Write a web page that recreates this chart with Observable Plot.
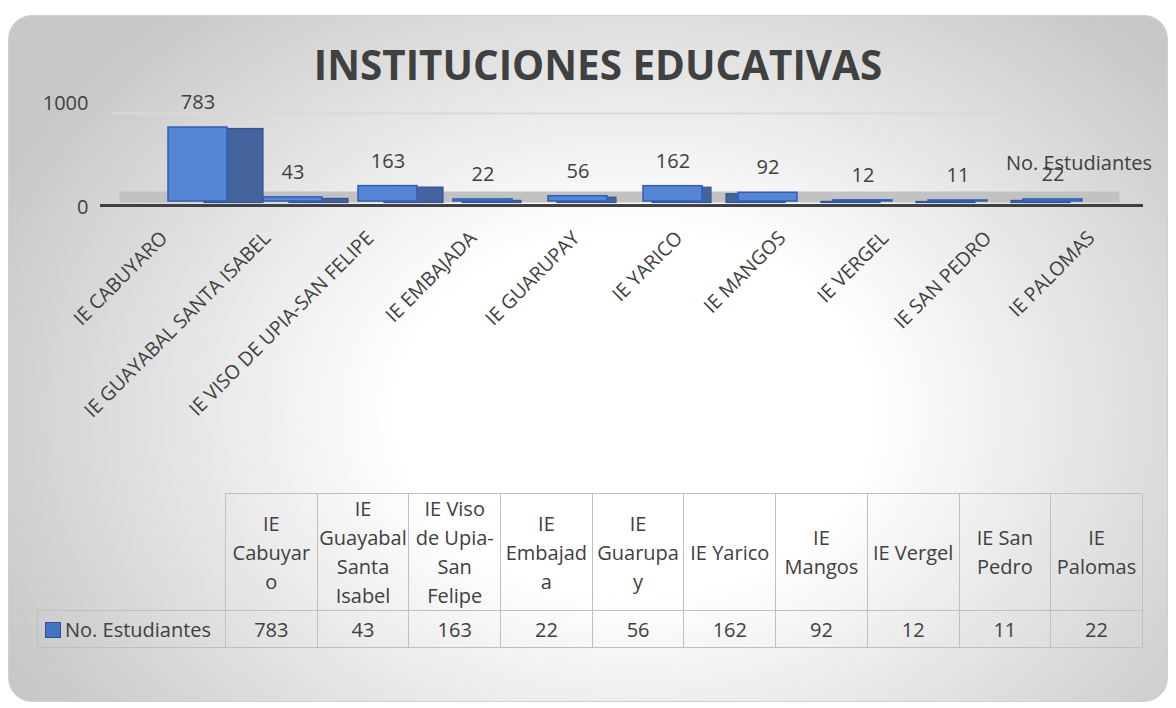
<!DOCTYPE html>
<html>
<head>
<meta charset="utf-8">
<script src="https://cdn.jsdelivr.net/npm/d3@7"></script>
<script src="https://cdn.jsdelivr.net/npm/@observablehq/plot@0.6"></script>
<style>
  html, body { margin: 0; padding: 0; width: 1176px; height: 708px; overflow: hidden; background: #ffffff;
    font-family: "Open Sans", sans-serif; color: #404040; }
  #card { position: absolute; left: 8px; top: 15px; width: 1160px; height: 687px; box-sizing: border-box;
    border: 1px solid #d0d0d0; border-radius: 24px;
    background: radial-gradient(ellipse 60% 78% at 54% 58%, #ffffff 0%, #ffffff 34%, #c8c8c8 100%); }
  #title { position: absolute; left: 0; top: 45px; width: 1196px; text-align: center; font-weight: 700;
    font-size: 40.4px; line-height: 40px; color: #404040; white-space: nowrap; }
  #bars { position: absolute; left: 0; top: 95px; }
  #labels { position: absolute; left: 0; top: 205px; }
  #table { position: absolute; left: 37px; top: 493px; border-collapse: collapse; table-layout: fixed;
    width: 1105px; font-size: 20px; line-height: 29px; color: #404040; }
  #table td { border: 1.5px solid #bfbfbf; padding: 0; text-align: center; vertical-align: middle;
    white-space: pre; overflow: visible; }
  #table td.empty { border: none; }
  #table tr.head td { height: 115px; }
  #table tr.data td { height: 36px; }
  #table td.legend { text-align: left; padding-left: 7px; }
  .swatch { display: inline-block; width: 14px; height: 14px; background: #4472c4; border: 1px solid #2f528f;
    margin-right: 4px; vertical-align: -1px; }
</style>
</head>
<body>
<div id="card"></div>
<div id="title"></div>
<div id="bars"></div>
<div id="labels"></div>
<table id="table"></table>
<script>
// ---- data ----
const chartTitle = "INSTITUCIONES EDUCATIVAS";
const seriesName = "No. Estudiantes";
const categories = ["IE CABUYARO", "IE GUAYABAL SANTA ISABEL", "IE VISO DE UPIA-SAN FELIPE", "IE EMBAJADA",
  "IE GUARUPAY", "IE YARICO", "IE MANGOS", "IE VERGEL", "IE SAN PEDRO", "IE PALOMAS"];
const tableLabels = ["IE\nCabuyar\no", "IE\nGuayabal\nSanta\nIsabel", "IE Viso\nde Upia-\nSan\nFelipe",
  "IE\nEmbajad\na", "IE\nGuarupa\ny", "IE Yarico", "IE\nMangos", "IE Vergel", "IE San\nPedro", "IE\nPalomas"];
const values = [783, 43, 163, 22, 56, 162, 92, 12, 11, 22];
const yTicks = [0, 1000];

const rows = categories.map((c, i) => ({category: c, value: values[i], index: i}));

document.getElementById("title").textContent = chartTitle;

const font = '"Open Sans", sans-serif';
const ink = "#404040";

// side faces of the 3D columns (perspective: right side on the left, left side on the right)
const sideGroups = [
  {from: 0, to: 0, dx: 36},
  {from: 1, to: 2, dx: 26},
  {from: 3, to: 5, dx: 9},
  {from: 6, to: 9, dx: -12}
];
const sideMarks = sideGroups.map(g => Plot.barY(rows.filter(d => d.index >= g.from && d.index <= g.to), {
  x: "category", y: "value", fill: "#45639c", stroke: "#2f5597", strokeWidth: 1.2,
  insetLeft: 18, insetRight: 18, dx: g.dx, dy: 1.5
}));

const bars = Plot.plot({
  width: 1176, height: 300,
  marginLeft: 149.5, marginRight: 76.5, marginTop: 11.5, marginBottom: 194,
  style: {fontFamily: font, fontSize: "20px", color: ink, background: "transparent", overflow: "visible"},
  x: {type: "band", domain: categories, padding: 0, axis: null},
  y: {domain: [0, 1000], axis: null},
  marks: [
    Plot.ruleY([1000], {stroke: "#d9d9d9", strokeWidth: 2, dy: 6.5, insetLeft: -38, insetRight: 67}),
    Plot.ruleY([0], {stroke: "#c2c2c2", strokeWidth: 11, dy: -4.5, insetLeft: -30, insetRight: -20}),
    ...sideMarks,
    Plot.barY(rows, {x: "category", y: "value", fill: "#5585d4", stroke: "#2f5fb3", strokeWidth: 1.5,
      insetLeft: 18, insetRight: 18}),
    Plot.ruleY([0], {stroke: "#404040", strokeWidth: 3, dy: 4, insetLeft: -49.5, insetRight: -43.5}),
    Plot.axisY([yTicks[1]], {tickSize: 0, tickPadding: 61.5, dy: -3.5, fontSize: 20, fill: ink,
      label: null, tickFormat: d => String(d)}),
    Plot.axisY([yTicks[0]], {tickSize: 0, tickPadding: 61.5, dy: 6, fontSize: 20, fill: ink,
      label: null, tickFormat: d => String(d)}),
    Plot.text(rows, {x: "category", y: "value", text: d => String(d.value), dy: -25, fontSize: 20, fill: ink}),
    Plot.text(rows.slice(-1), {x: "category", y: 0, text: () => seriesName, dx: 26, dy: -38, fontSize: 20, fill: ink})
  ]
});
document.getElementById("bars").appendChild(bars);

// category labels along the front edge of the 3D floor (wider perspective spacing)
const labels = Plot.plot({
  width: 1176, height: 200,
  marginLeft: 118.5, marginRight: 27.5, marginTop: 0, marginBottom: 0,
  style: {fontFamily: font, fontSize: "19.5px", color: ink, background: "transparent", overflow: "visible"},
  x: {type: "band", domain: categories, padding: 0, axis: null},
  marks: [
    Plot.text(categories, {x: d => d, frameAnchor: "top", rotate: -45, textAnchor: "end", dx: -12, dy: 24,
      fontSize: 19.5, fill: ink})
  ]
});
document.getElementById("labels").appendChild(labels);

// data table
const table = document.getElementById("table");
const colgroup = document.createElement("colgroup");
[188, ...categories.map(() => 91.7)].forEach(w => {
  const col = document.createElement("col"); col.style.width = w + "px"; colgroup.appendChild(col);
});
table.appendChild(colgroup);
const head = document.createElement("tr"); head.className = "head";
const empty = document.createElement("td"); empty.className = "empty"; head.appendChild(empty);
tableLabels.forEach(t => { const td = document.createElement("td"); td.textContent = t; head.appendChild(td); });
table.appendChild(head);
const data = document.createElement("tr"); data.className = "data";
const lg = document.createElement("td"); lg.className = "legend";
const sw = document.createElement("span"); sw.className = "swatch"; lg.appendChild(sw);
lg.appendChild(document.createTextNode(seriesName));
data.appendChild(lg);
values.forEach(v => { const td = document.createElement("td"); td.textContent = String(v); data.appendChild(td); });
table.appendChild(data);
</script>
</body>
</html>
